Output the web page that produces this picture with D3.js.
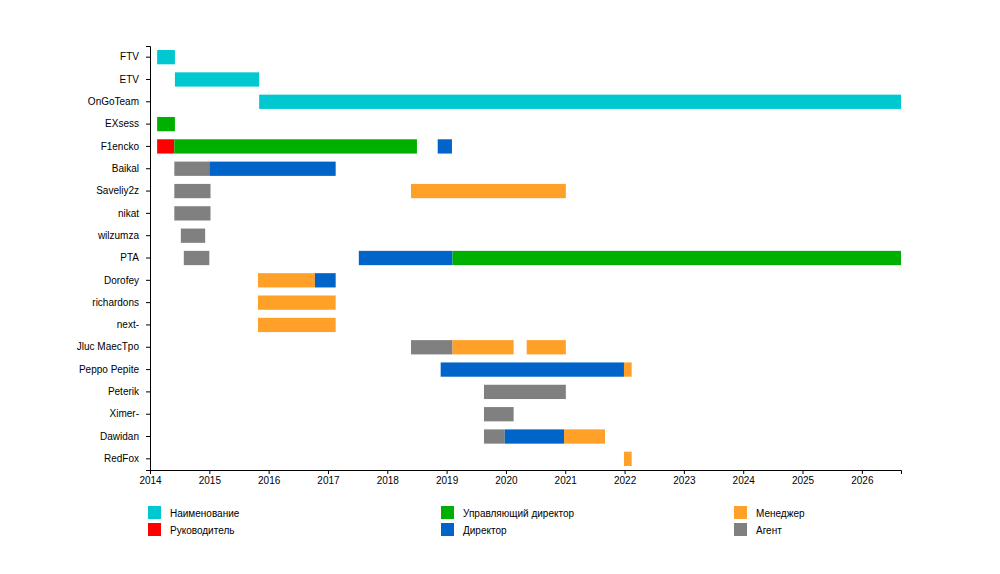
<!DOCTYPE html>
<html><head><meta charset="utf-8">
<script src="https://cdn.jsdelivr.net/npm/d3@7"></script>
<style>body{margin:0;background:#fff}text{font-family:"Liberation Sans",Arial,sans-serif}</style>
</head><body>
<script>
var names = ["FTV","ETV","OnGoTeam","EXsess","F1encko","Baikal","Saveliy2z","nikat","wilzumza","PTA",
  "Dorofey","richardons","next-","Jluc MaecTpo","Peppo Pepite","Peterik","Ximer-","Dawidan","RedFox"];
var roles = ["Наименование","Руководитель","Управляющий директор","Директор","Менеджер","Агент"];
var roleColors = ["#00c8d0","#ff0000","#00b000","#0064c8","#ffa028","#808080"];
// [name, role index, start, end]
var spans = [
  ["FTV",0,2014.12,2014.42],["ETV",0,2014.42,2015.84],["OnGoTeam",0,2015.84,2026.66],
  ["EXsess",2,2014.12,2014.42],
  ["F1encko",1,2014.12,2014.41],["F1encko",2,2014.41,2018.5],["F1encko",3,2018.85,2019.09],
  ["Baikal",5,2014.41,2015.0],["Baikal",3,2015.0,2017.13],
  ["Saveliy2z",5,2014.41,2015.02],["Saveliy2z",4,2018.4,2021.01],
  ["nikat",5,2014.41,2015.02],["wilzumza",5,2014.52,2014.93],
  ["PTA",5,2014.57,2015.0],["PTA",3,2017.52,2019.1],["PTA",2,2019.1,2026.66],
  ["Dorofey",4,2015.82,2016.78],["Dorofey",3,2016.78,2017.13],
  ["richardons",4,2015.82,2017.13],["next-",4,2015.82,2017.13],
  ["Jluc MaecTpo",5,2018.4,2019.1],["Jluc MaecTpo",4,2019.1,2020.13],["Jluc MaecTpo",4,2020.35,2021.01],
  ["Peppo Pepite",3,2018.9,2021.99],["Peppo Pepite",4,2021.99,2022.12],
  ["Peterik",5,2019.63,2021.01],["Ximer-",5,2019.63,2020.13],
  ["Dawidan",5,2019.63,2019.98],["Dawidan",3,2019.98,2020.98],["Dawidan",4,2020.98,2021.67],
  ["RedFox",4,2021.99,2022.12]
];
var years = d3.range(2014,2027);

var svg = d3.select("body").append("svg").attr("width",1000).attr("height",574);
var x = d3.scaleLinear().domain([2014,2026.66]).range([150,901]);
var y = d3.scaleBand().domain(names).range([46,470]).paddingInner(0.36).paddingOuter(0.18);

svg.append("g").selectAll("rect").data(spans).enter().append("rect")
  .attr("x",function(d){return x(d[2]);})
  .attr("width",function(d){return x(d[3])-x(d[2]);})
  .attr("y",function(d){return y(d[0]);})
  .attr("height",y.bandwidth())
  .attr("fill",function(d){return roleColors[d[1]];});

var xa = svg.append("g").attr("transform","translate(0,470)")
  .call(d3.axisBottom(x).tickValues(years).tickFormat(d3.format("d")).tickSize(4));
var ya = svg.append("g").attr("transform","translate(150,0)")
  .call(d3.axisLeft(y).tickSize(4));
[xa,ya].forEach(function(a){
  a.selectAll("text").style("font-size","10px").attr("fill","#000");
  a.select(".domain").attr("stroke","#000");
});
ya.selectAll("text").attr("dx","-4");

var leg = svg.append("g").selectAll("g").data(roles).enter().append("g")
  .attr("transform",function(d,i){return "translate("+[148,441,734][Math.floor(i/2)]+","+(506+(i%2)*17)+")";});
leg.append("rect").attr("width",13).attr("height",13)
  .attr("fill",function(d,i){return roleColors[i];});
leg.append("text").attr("x",22).attr("y",11).style("font-size","10px").text(function(d){return d;});
</script>
</body></html>
